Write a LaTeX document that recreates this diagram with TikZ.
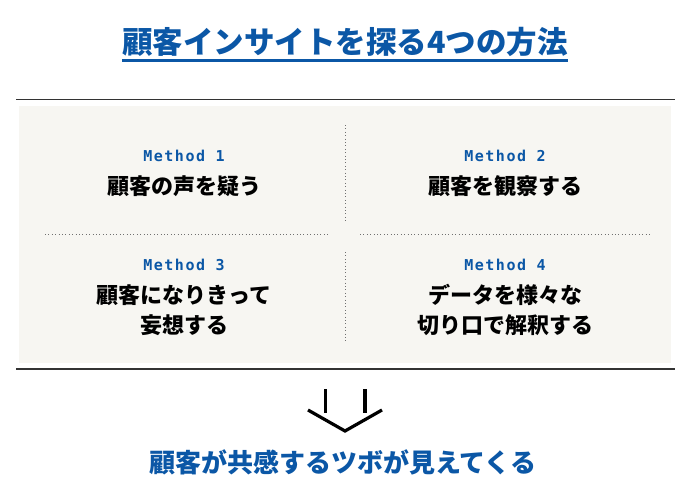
\documentclass[tikz,border=0pt]{standalone}
\usepackage{fontspec}
\newfontfamily\jpfont[BoldFont={Noto Sans CJK JP Black}]{Noto Sans CJK JP}
\newfontfamily\methodfont[LetterSpace=10]{DejaVu Sans Mono}
\usetikzlibrary{positioning}
\definecolor{insightblue}{HTML}{0B57A6}
\definecolor{panelgray}{HTML}{F7F6F2}
\definecolor{rulegray}{HTML}{333333}
\definecolor{dotgray}{HTML}{707070}

\begin{document}
\begin{tikzpicture}[x=1pt,y=-1pt,
  method/.style={font=\methodfont\bfseries\fontsize{15}{15}\selectfont,text=insightblue,inner sep=0pt},
  idea/.style={font=\jpfont\bfseries\fontsize{22}{30}\selectfont,align=center,inner sep=0pt},
  headline/.style={font=\jpfont\bfseries\fontsize{#1}{#1}\selectfont,text=insightblue,inner sep=0pt},
  sepline/.style={dotgray,line width=0.8pt,dash pattern=on 0.8pt off 2.6pt},
  node distance=321pt]

\useasboundingbox (0,0) rectangle (700,501);

% title
\node[headline=30.5] (title) at (345,42) {顧客インサイトを探る4つの方法};
\draw[insightblue,line width=3pt] ([yshift=-4pt]title.south west) -- ([yshift=-4pt]title.south east);

% panel and rules
\fill[panelgray] (19,106) rectangle (671,363);
\draw[rulegray,line width=1.4pt] (16,99.5) -- (675,99.5);
\draw[rulegray,line width=1.4pt] (16,369) -- (675,369);
\draw[sepline] (45,234) -- (328,234);
\draw[sepline] (360,234) -- (650,234);
\draw[sepline] (345,125) -- (345,222);
\draw[sepline] (345,252) -- (345,343);

% methods
\node[method] (m_1) at (184,156) {Method 1};
\node[method] (m_2) [right of=m_1] {Method 2};
\node[method] (m_3) at (184,265) {Method 3};
\node[method] (m_4) [right of=m_3] {Method 4};

\node[idea,anchor=north] (t_1) [below=13pt of m_1] {顧客の声を疑う};
\node[idea,anchor=north] (t_2) [below=13pt of m_2] {顧客を観察する};
\node[idea,anchor=north] (t_3) [below=13pt of m_3] {顧客になりきって\\妄想する};
\node[idea,anchor=north] (t_4) [below=13pt of m_4] {データを様々な\\切り口で解釈する};

% arrow
\coordinate (tip) at (345,431);
\draw[line width=3.2pt] (325.5,389) -- (325.5,413);
\draw[line width=3.2pt] (365,389) -- (365,413);
\draw[line width=3.2pt] (308,410) -- (tip) -- (382,410);

\node[headline=26] (result) at (343,462) {顧客が共感するツボが見えてくる};

\end{tikzpicture}
\end{document}
